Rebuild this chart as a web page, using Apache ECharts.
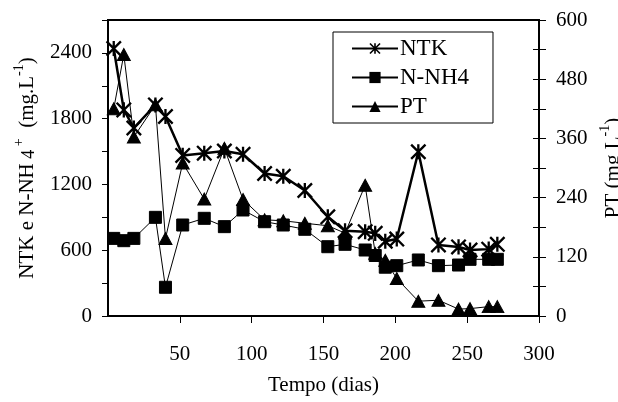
<!DOCTYPE html>
<html>
<head>
<meta charset="utf-8">
<script src="https://cdn.jsdelivr.net/npm/echarts@6/dist/echarts.min.js"></script>
<style>html,body{margin:0;padding:0;background:#fff;}#c{width:618px;height:402px;}</style>
</head>
<body>
<div id="c"></div>
<script>
// Data
var days = [4, 11, 18, 33, 40, 52, 67, 81, 94, 109, 122, 137, 153, 165, 179, 186, 193, 201, 216, 230, 244, 252, 265, 271];
var ntk  = [2440, 1880, 1715, 1925, 1820, 1465, 1485, 1505, 1475, 1300, 1275, 1145, 905, 778, 769, 754, 682, 702, 1498, 648, 630, 602, 610, 654];
var nh4  = [708, 687, 708, 900, 262, 830, 891, 815, 967, 860, 830, 791, 632, 654, 602, 552, 445, 459, 511, 459, 465, 517, 517, 517];
var pt   = [420, 530, 363, 428, 157, 310, 237, 340, 236, 195, 193, 188, 183, 168, 265, 127, 113, 76, 30, 32, 14, 15, 19, 19];
var xTicks = [0, 50, 100, 150, 200, 250, 300];
var leftTicks = [0, 600, 1200, 1800, 2400];
var rightTicks = [0, 120, 240, 360, 480, 600];

function pairs(v) { return days.map(function (d, i) { return [d, v[i]]; }); }

var FONT = 'Liberation Serif';
var FS = 21;
var star = 'path://M-1.6,-10.5L1.6,-10.5L1.6,10.5L-1.6,10.5Z' +
  'M-8.8,-11.1L11.1,8.8L8.8,11.1L-11.1,-8.8Z' +
  'M11.1,-8.8L-8.8,11.1L-11.1,8.8L8.8,-11.1Z';

var chart = echarts.init(document.getElementById('c'), null, {renderer: 'canvas'});
chart.setOption({
  animation: false,
  backgroundColor: '#fff',
  textStyle: {fontFamily: FONT, color: '#000'},
  grid: {left: 108, right: 79, top: 20, bottom: 86, show: true, borderColor: '#000', borderWidth: 2,
    containLabel: false, outerBoundsMode: 'none'},
  legend: {
    data: ['NTK', 'N-NH4', 'PT'],
    orient: 'vertical', left: 333, top: 32,
    padding: [5, 24, 5, 18],
    itemGap: 6, itemWidth: 46, itemHeight: 14,
    borderColor: '#000', borderWidth: 1,
    textStyle: {fontFamily: FONT, fontSize: 23, color: '#000', padding: [0, 0, 0, -3]}
  },
  xAxis: {
    type: 'value', min: 0, max: 300, interval: 50,
    name: 'Tempo (dias)', nameLocation: 'middle', nameGap: 59,
    nameTextStyle: {fontFamily: FONT, fontSize: FS, color: '#000'},
    axisLine: {show: true, lineStyle: {color: '#000', width: 2}},
    axisTick: {show: true, inside: false, length: 7, lineStyle: {color: '#000', width: 1}},
    axisLabel: {show: true, showMinLabel: false, fontFamily: FONT, fontSize: FS, color: '#000', margin: 28,
      formatter: function (v) { return xTicks.indexOf(v) >= 0 ? String(v) : ''; }},
    splitLine: {show: false}
  },
  yAxis: [{
    type: 'value', position: 'left', min: 0, max: 2700, interval: 300,
    name: '{a|NTK e N-NH}{s| 4}{p| +}{a|  (mg.L}{p|-1}{a|)}',
    nameLocation: 'middle', nameGap: 70, nameRotate: 90,
    nameTextStyle: {fontFamily: FONT, fontSize: FS, color: '#000',
      rich: {
        a: {fontFamily: FONT, fontSize: FS, color: '#000', lineHeight: 26, verticalAlign: 'bottom'},
        s: {fontFamily: FONT, fontSize: 18, color: '#000', lineHeight: 26, verticalAlign: 'bottom'},
        p: {fontFamily: FONT, fontSize: 14, color: '#000', lineHeight: 13, verticalAlign: 'top'}
      }},
    axisLine: {show: true, lineStyle: {color: '#000', width: 2}},
    axisTick: {show: true, inside: false, length: 6, lineStyle: {color: '#000', width: 1}},
    axisLabel: {fontFamily: FONT, fontSize: FS, color: '#000', margin: 16,
      formatter: function (v) { return leftTicks.indexOf(v) >= 0 ? String(v) : ''; }},
    splitLine: {show: false}
  }, {
    type: 'value', position: 'right', min: 0, max: 600, interval: 60,
    name: '{a|PT (mg L}{p|-1}{a|)}',
    nameLocation: 'middle', nameGap: 54, nameRotate: 90,
    nameTextStyle: {fontFamily: FONT, fontSize: FS, color: '#000',
      rich: {
        a: {fontFamily: FONT, fontSize: FS, color: '#000', lineHeight: 26, verticalAlign: 'bottom'},
        p: {fontFamily: FONT, fontSize: 14, color: '#000', lineHeight: 13, verticalAlign: 'top'}
      }},
    axisLine: {show: true, lineStyle: {color: '#000', width: 2}},
    axisTick: {show: true, inside: false, length: 7, lineStyle: {color: '#000', width: 1}},
    axisLabel: {fontFamily: FONT, fontSize: FS, color: '#000', margin: 17,
      formatter: function (v) { return rightTicks.indexOf(v) >= 0 ? String(v) : ''; }},
    splitLine: {show: false}
  }, {
    type: 'value', position: 'right', min: 0, max: 600, interval: 60,
    axisLine: {show: false},
    axisTick: {show: true, inside: true, length: 6, lineStyle: {color: '#000', width: 1}},
    axisLabel: {show: false},
    splitLine: {show: false}
  }],
  series: [{
    name: 'N-NH4', type: 'line', yAxisIndex: 0, data: pairs(nh4), z: 3,
    symbol: 'rect', symbolSize: 12, showAllSymbol: true,
    lineStyle: {color: '#000', width: 1}, itemStyle: {color: '#000', borderColor: '#000'}
  }, {
    name: 'PT', type: 'line', yAxisIndex: 1, data: pairs(pt), z: 4,
    symbol: 'triangle', symbolSize: [13, 12], showAllSymbol: true,
    lineStyle: {color: '#000', width: 1}, itemStyle: {color: '#000', borderColor: '#000'}
  }, {
    name: 'NTK', type: 'line', yAxisIndex: 0, data: pairs(ntk), z: 5,
    symbol: star, symbolSize: 16, showAllSymbol: true,
    lineStyle: {color: '#000', width: 2.5}, itemStyle: {color: '#000', borderColor: '#000', borderWidth: 0}
  }]
});
</script>
</body>
</html>
